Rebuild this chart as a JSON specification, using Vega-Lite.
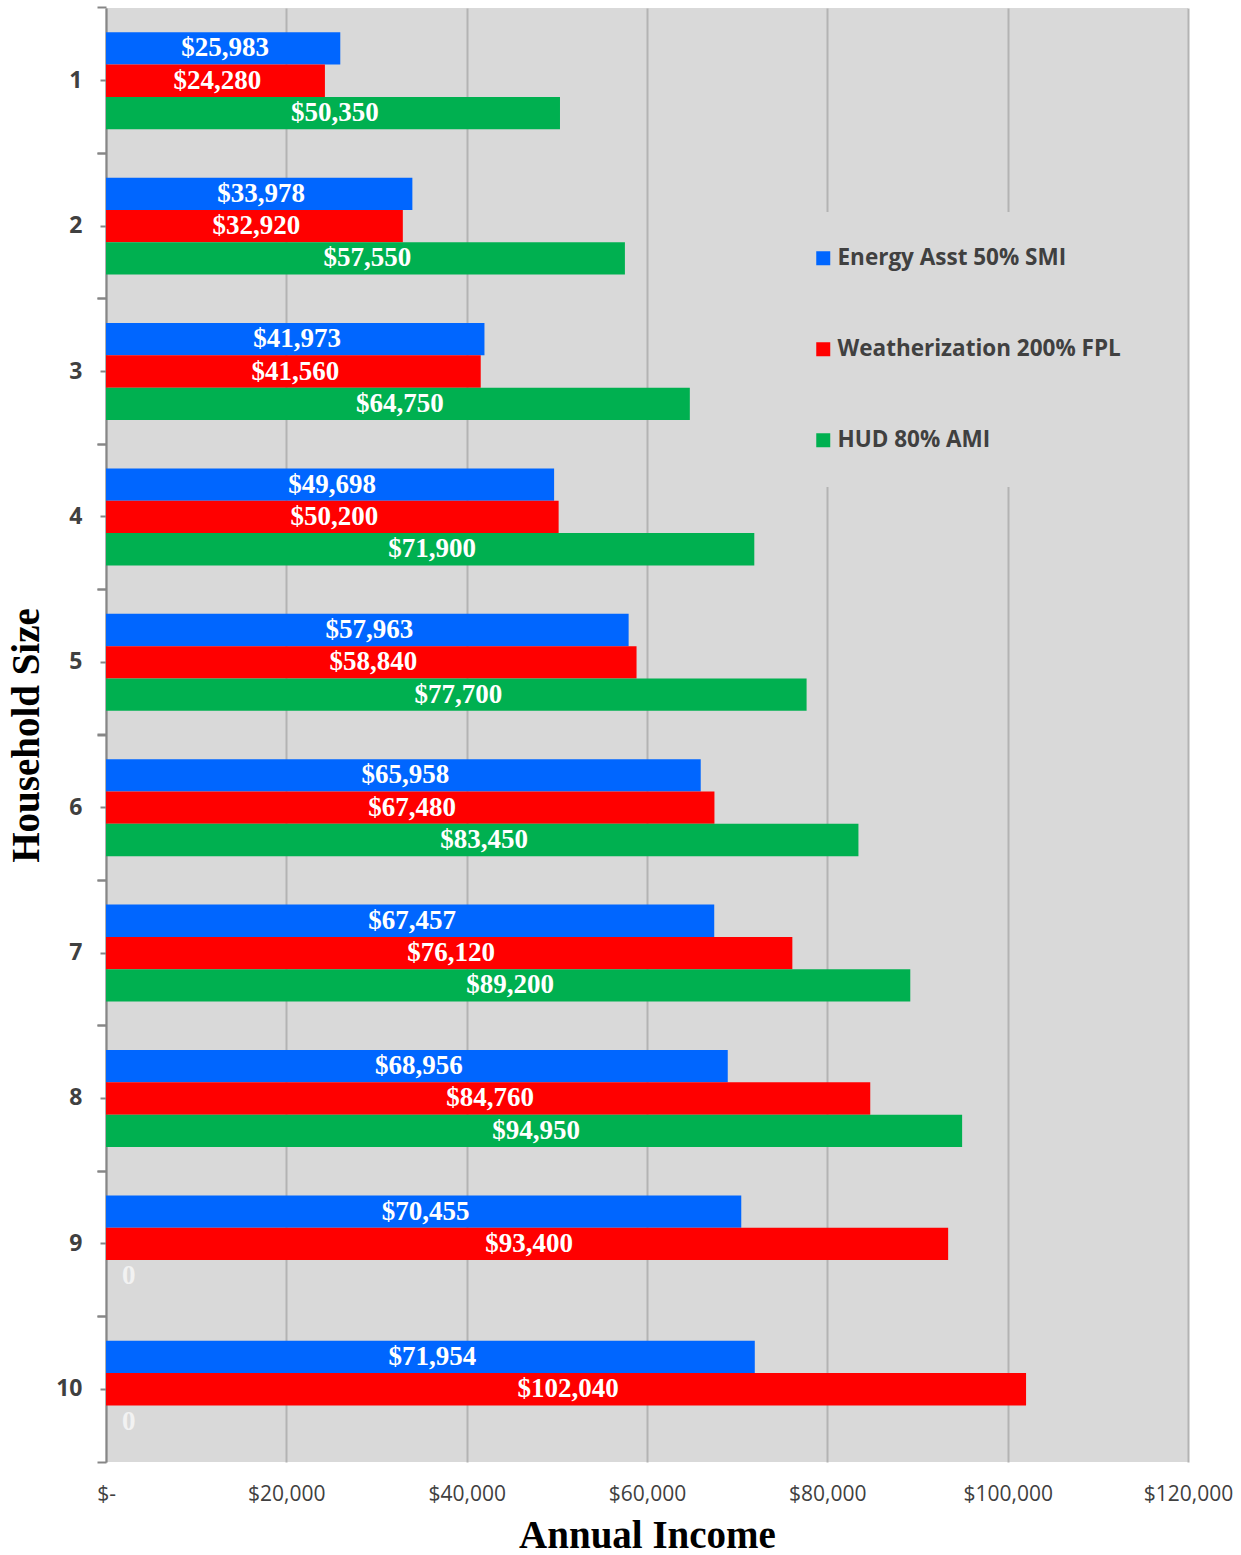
{
  "$schema": "https://vega.github.io/schema/vega-lite/v6.json",
  "width": 1082,
  "height": 1454,
  "autosize": "none",
  "padding": {"left": 106, "top": 8, "right": 53, "bottom": 93},
  "background": "white",
  "config": {
    "view": {"fill": "#d9d9d9", "stroke": null}
  },
  "data": {
    "values": [
      {"size": 1, "series": "Energy Asst 50% SMI", "value": 25983},
      {"size": 1, "series": "Weatherization 200% FPL", "value": 24280},
      {"size": 1, "series": "HUD 80% AMI", "value": 50350},
      {"size": 2, "series": "Energy Asst 50% SMI", "value": 33978},
      {"size": 2, "series": "Weatherization 200% FPL", "value": 32920},
      {"size": 2, "series": "HUD 80% AMI", "value": 57550},
      {"size": 3, "series": "Energy Asst 50% SMI", "value": 41973},
      {"size": 3, "series": "Weatherization 200% FPL", "value": 41560},
      {"size": 3, "series": "HUD 80% AMI", "value": 64750},
      {"size": 4, "series": "Energy Asst 50% SMI", "value": 49698},
      {"size": 4, "series": "Weatherization 200% FPL", "value": 50200},
      {"size": 4, "series": "HUD 80% AMI", "value": 71900},
      {"size": 5, "series": "Energy Asst 50% SMI", "value": 57963},
      {"size": 5, "series": "Weatherization 200% FPL", "value": 58840},
      {"size": 5, "series": "HUD 80% AMI", "value": 77700},
      {"size": 6, "series": "Energy Asst 50% SMI", "value": 65958},
      {"size": 6, "series": "Weatherization 200% FPL", "value": 67480},
      {"size": 6, "series": "HUD 80% AMI", "value": 83450},
      {"size": 7, "series": "Energy Asst 50% SMI", "value": 67457},
      {"size": 7, "series": "Weatherization 200% FPL", "value": 76120},
      {"size": 7, "series": "HUD 80% AMI", "value": 89200},
      {"size": 8, "series": "Energy Asst 50% SMI", "value": 68956},
      {"size": 8, "series": "Weatherization 200% FPL", "value": 84760},
      {"size": 8, "series": "HUD 80% AMI", "value": 94950},
      {"size": 9, "series": "Energy Asst 50% SMI", "value": 70455},
      {"size": 9, "series": "Weatherization 200% FPL", "value": 93400},
      {"size": 9, "series": "HUD 80% AMI", "value": 0},
      {"size": 10, "series": "Energy Asst 50% SMI", "value": 71954},
      {"size": 10, "series": "Weatherization 200% FPL", "value": 102040},
      {"size": 10, "series": "HUD 80% AMI", "value": 0}
    ]
  },
  "encoding": {
    "yOffset": {
      "field": "series",
      "type": "nominal",
      "scale": {"domain": ["Energy Asst 50% SMI", "Weatherization 200% FPL", "HUD 80% AMI"], "paddingInner": 0, "paddingOuter": 0}
    }
  },
  "resolve": {"axis": {"y": "independent"}},
  "layer": [
    {
      "mark": {"type": "bar"},
      "encoding": {
        "y": {
          "field": "size",
          "type": "ordinal",
          "scale": {"paddingInner": 0.333, "paddingOuter": 0.1667},
          "axis": {
            "orient": "left",
            "title": "Household Size",
            "titleFont": "Liberation Serif",
            "titleFontSize": 39,
            "titleFontWeight": "bold",
            "titleColor": "#000000",
            "titlePadding": 9,
            "labelFont": "Open Sans",
            "labelFontSize": 23,
            "labelFontWeight": "bold",
            "labelColor": "#404040",
            "labelPadding": 18,
            "labelAngle": 0,
            "tickSize": 6,
            "tickColor": "#868686",
            "tickWidth": 2,
            "domainColor": "#868686",
            "domainWidth": 2,
            "grid": false
          }
        },
        "x": {
          "field": "value",
          "type": "quantitative",
          "scale": {"domain": [0, 120000], "nice": false},
          "axis": {
            "title": "Annual Income",
            "titleFont": "Liberation Serif",
            "titleFontSize": 39,
            "titleFontWeight": "bold",
            "titleColor": "#000000",
            "titlePadding": 12,
            "values": [0, 20000, 40000, 60000, 80000, 100000, 120000],
            "labelExpr": "datum.value == 0 ? '$-' : '$' + format(datum.value, ',')",
            "labelFont": "Open Sans",
            "labelFontSize": 21,
            "labelColor": "#404040",
            "labelPadding": 21,
            "labelFlush": false,
            "ticks": false,
            "domain": false,
            "grid": true,
            "gridColor": "#b3b3b3",
            "gridWidth": 2
          }
        },
        "color": {
          "field": "series",
          "type": "nominal",
          "scale": {
            "domain": ["Energy Asst 50% SMI", "Weatherization 200% FPL", "HUD 80% AMI"],
            "range": ["#0066ff", "#ff0000", "#00b050"]
          },
          "legend": {
            "title": null,
            "orient": "none",
            "legendX": 671,
            "legendY": 204,
            "direction": "vertical",
            "fillColor": "#d9d9d9",
            "padding": 35,
            "symbolType": "square",
            "symbolSize": 196,
            "symbolStrokeWidth": 0,
            "labelFont": "Open Sans",
            "labelFontSize": 22.5,
            "labelFontWeight": "bold",
            "labelColor": "#404040",
            "labelOffset": 3,
            "labelLimit": 400,
            "rowPadding": 68
          }
        }
      }
    },
    {
      "transform": [
        {"filter": "datum.value > 0"},
        {"calculate": "datum.value / 2", "as": "mid"},
        {"calculate": "'$' + format(datum.value, ',')", "as": "label"}
      ],
      "mark": {"type": "text", "font": "Liberation Serif", "fontSize": 27, "fontWeight": "bold", "color": "#ffffff", "baseline": "middle", "align": "center", "dx": 2},
      "encoding": {
        "y": {
          "field": "size",
          "type": "ordinal",
          "axis": {
            "orient": "left",
            "title": null,
            "labels": false,
            "domain": false,
            "grid": false,
            "bandPosition": -0.25,
            "tickSize": 9,
            "tickColor": "#868686",
            "tickWidth": 2
          }
        },
        "x": {"field": "mid", "type": "quantitative"},
        "text": {"field": "label"}
      }
    },
    {
      "transform": [
        {"filter": "datum.value == 0"}
      ],
      "mark": {"type": "text", "font": "Liberation Serif", "fontSize": 27, "fontWeight": "bold", "color": "#f2f2f2", "baseline": "middle", "align": "left", "dx": 16},
      "encoding": {
        "y": {
          "field": "size",
          "type": "ordinal",
          "axis": {
            "orient": "left",
            "title": null,
            "labels": false,
            "domain": false,
            "grid": false,
            "bandPosition": 1.25,
            "tickSize": 9,
            "tickColor": "#868686",
            "tickWidth": 2
          }
        },
        "x": {"field": "value", "type": "quantitative"},
        "text": {"value": "0"}
      }
    }
  ]
}
